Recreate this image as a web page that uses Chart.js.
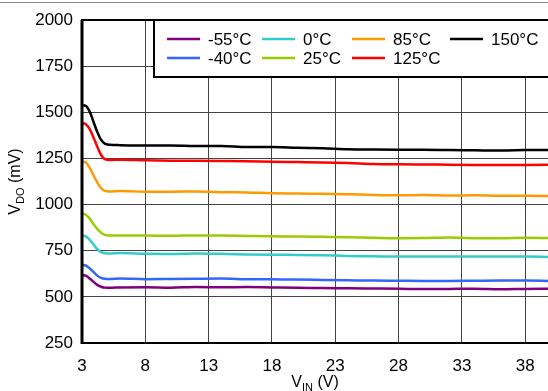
<!DOCTYPE html>
<html>
<head>
<meta charset="utf-8">
<script src="https://cdn.jsdelivr.net/npm/chart.js@4"></script>
<style>
  html, body { margin: 0; padding: 0; background: #fff; overflow: hidden; }
  #wrap { width: 548px; height: 391px; position: relative; }
</style>
</head>
<body>
<div id="wrap"><canvas id="c" width="548" height="391"></canvas></div>
<script>
/* VDO vs VIN at temperature */

const vin = [3, 3.3, 3.6, 3.9, 4.2, 4.5, 4.8, 5.2, 6, 8, 10, 12, 14, 16, 18, 20, 22, 24, 26, 28, 30, 32, 34, 36, 38, 40];

const vdoM55 = [618, 615, 600, 582, 565, 555, 550, 549, 551, 552, 550, 553, 552, 553, 551, 549, 548, 546, 545, 544, 542, 543, 544, 541, 543, 544];
const vdoM40 = [673, 670, 655, 635, 615, 603, 598, 597, 599, 596, 597, 598, 599, 596, 595, 594, 592, 590, 588, 587, 586, 586, 587, 588, 588, 586];
const vdo0 = [832, 828, 810, 785, 758, 742, 736, 735, 737, 734, 732, 735, 733, 730, 728, 727, 725, 722, 720, 718, 718, 719, 718, 718, 718, 716];
const vdo25 = [949, 945, 925, 895, 868, 848, 836, 832, 832, 832, 831, 833, 832, 830, 828, 827, 825, 823, 820, 818, 819, 822, 818, 818, 820, 818];
const vdo85 = [1232, 1228, 1200, 1160, 1120, 1090, 1074, 1071, 1073, 1070, 1070, 1071, 1067, 1066, 1062, 1060, 1058, 1056, 1052, 1050, 1052, 1049, 1050, 1048, 1048, 1046];
const vdo125 = [1442, 1435, 1410, 1365, 1315, 1270, 1246, 1242, 1243, 1240, 1238, 1237, 1236, 1235, 1232, 1230, 1228, 1225, 1220, 1218, 1217, 1216, 1215, 1214, 1215, 1216];
const vdo150 = [1538, 1535, 1505, 1450, 1395, 1352, 1330, 1324, 1322, 1320, 1320, 1318, 1318, 1312, 1312, 1308, 1305, 1300, 1298, 1297, 1297, 1295, 1294, 1293, 1295, 1296];

const labels = ["-55°C", "-40°C", "0°C", "25°C", "85°C", "125°C", "150°C"];
const colors = ["#800080", "#3366ff", "#33cccc", "#99cc00", "#ff9900", "#ff0000", "#000000"];
const series = [vdoM55, vdoM40, vdo0, vdo25, vdo85, vdo125, vdo150];

const xTicks = [3, 8, 13, 18, 23, 28, 33, 38];
const FONT = "Liberation Sans, Arial, sans-serif";

// legend slots: column-major, 2 rows
const legendSlots = [[167, 39], [167, 58], [262, 39], [262, 58], [352, 39], [352, 58], [450, 39]];

const frame = {
  id: "frame",
  afterDraw(chart) {
    const { ctx, chartArea: a } = chart;
    ctx.save();
    // outer top line
    ctx.strokeStyle = "#888";
    ctx.lineWidth = 1;
    ctx.beginPath();
    ctx.moveTo(0, 2.5); ctx.lineTo(548, 2.5);
    ctx.stroke();
    // plot frame
    ctx.strokeStyle = "#000";
    ctx.lineWidth = 2;
    ctx.beginPath();
    ctx.moveTo(a.right + 2, a.top); ctx.lineTo(a.left, a.top);
    ctx.lineTo(a.left, a.bottom); ctx.lineTo(a.right + 2, a.bottom);
    ctx.stroke();
    ctx.lineWidth = 3;
    ctx.beginPath();
    ctx.moveTo(a.left, a.top); ctx.lineTo(a.left, a.bottom + 1);
    ctx.stroke();

    // legend
    ctx.fillStyle = "#fff";
    ctx.fillRect(154, 20, 400, 57);
    ctx.lineWidth = 2;
    ctx.strokeRect(154, 20, 400, 57);
    ctx.font = "17px " + FONT;
    ctx.textBaseline = "middle";
    chart.data.datasets.forEach((ds, i) => {
      const [lx, ly] = legendSlots[i];
      ctx.strokeStyle = ds.borderColor;
      ctx.lineWidth = 2.5;
      ctx.beginPath();
      ctx.moveTo(lx, ly); ctx.lineTo(lx + 33, ly);
      ctx.stroke();
      ctx.fillStyle = "#000";
      ctx.fillText(ds.label, lx + 41, ly + 1);
    });

    // axis titles with subscripts
    ctx.fillStyle = "#000";
    ctx.textBaseline = "alphabetic";
    const big = "16px " + FONT, small = "11px " + FONT;
    function sub(parts, cx, cy) {
      let w = 0;
      parts.forEach(([t, s]) => { ctx.font = s ? small : big; w += ctx.measureText(t).width; });
      let x = cx - w / 2;
      parts.forEach(([t, s]) => {
        ctx.font = s ? small : big;
        ctx.fillText(t, x, cy + (s ? 4 : 0));
        x += ctx.measureText(t).width;
      });
    }
    sub([["V", 0], ["IN", 1], [" (V)", 0]], (a.left + 548) / 2, 387);
    ctx.translate(20, (a.top + a.bottom) / 2);
    ctx.rotate(-Math.PI / 2);
    sub([["V", 0], ["DO", 1], [" (mV)", 0]], 0, 0);
    ctx.restore();
  }
};

new Chart(document.getElementById("c"), {
  type: "line",
  data: {
    labels: vin,
    datasets: series.map((s, i) => ({
      label: labels[i],
      data: s.map((v, j) => ({ x: vin[j], y: v })),
      borderColor: colors[i],
      borderWidth: 2.5,
      pointRadius: 0,
      cubicInterpolationMode: "monotone",
      fill: false,
    })),
  },
  options: {
    responsive: false,
    animation: false,
    events: [],
    layout: { padding: { top: 20, right: 0, left: 0, bottom: 0 } },
    plugins: { legend: { display: false }, tooltip: { enabled: false } },
    scales: {
      x: {
        type: "linear",
        min: 3,
        max: 39.8,
        afterBuildTicks: (s) => { s.ticks = xTicks.map((v) => ({ value: v })); },
        afterFit: (s) => { s.height = 48; },
        grid: { color: "#444", lineWidth: 1, drawTicks: false },
        border: { display: false },
        ticks: { color: "#000", font: { family: FONT, size: 17 }, padding: 13, maxRotation: 0, callback: (v) => String(v) },
      },
      y: {
        min: 250,
        max: 2000,
        afterFit: (s) => { s.width = 82; },
        grid: { color: "#444", lineWidth: 1, drawTicks: false },
        border: { display: false },
        ticks: { stepSize: 250, color: "#000", font: { family: FONT, size: 17 }, padding: 9, callback: (v) => String(v) },
      },
    },
  },
  plugins: [frame],
});
</script>
</body>
</html>
